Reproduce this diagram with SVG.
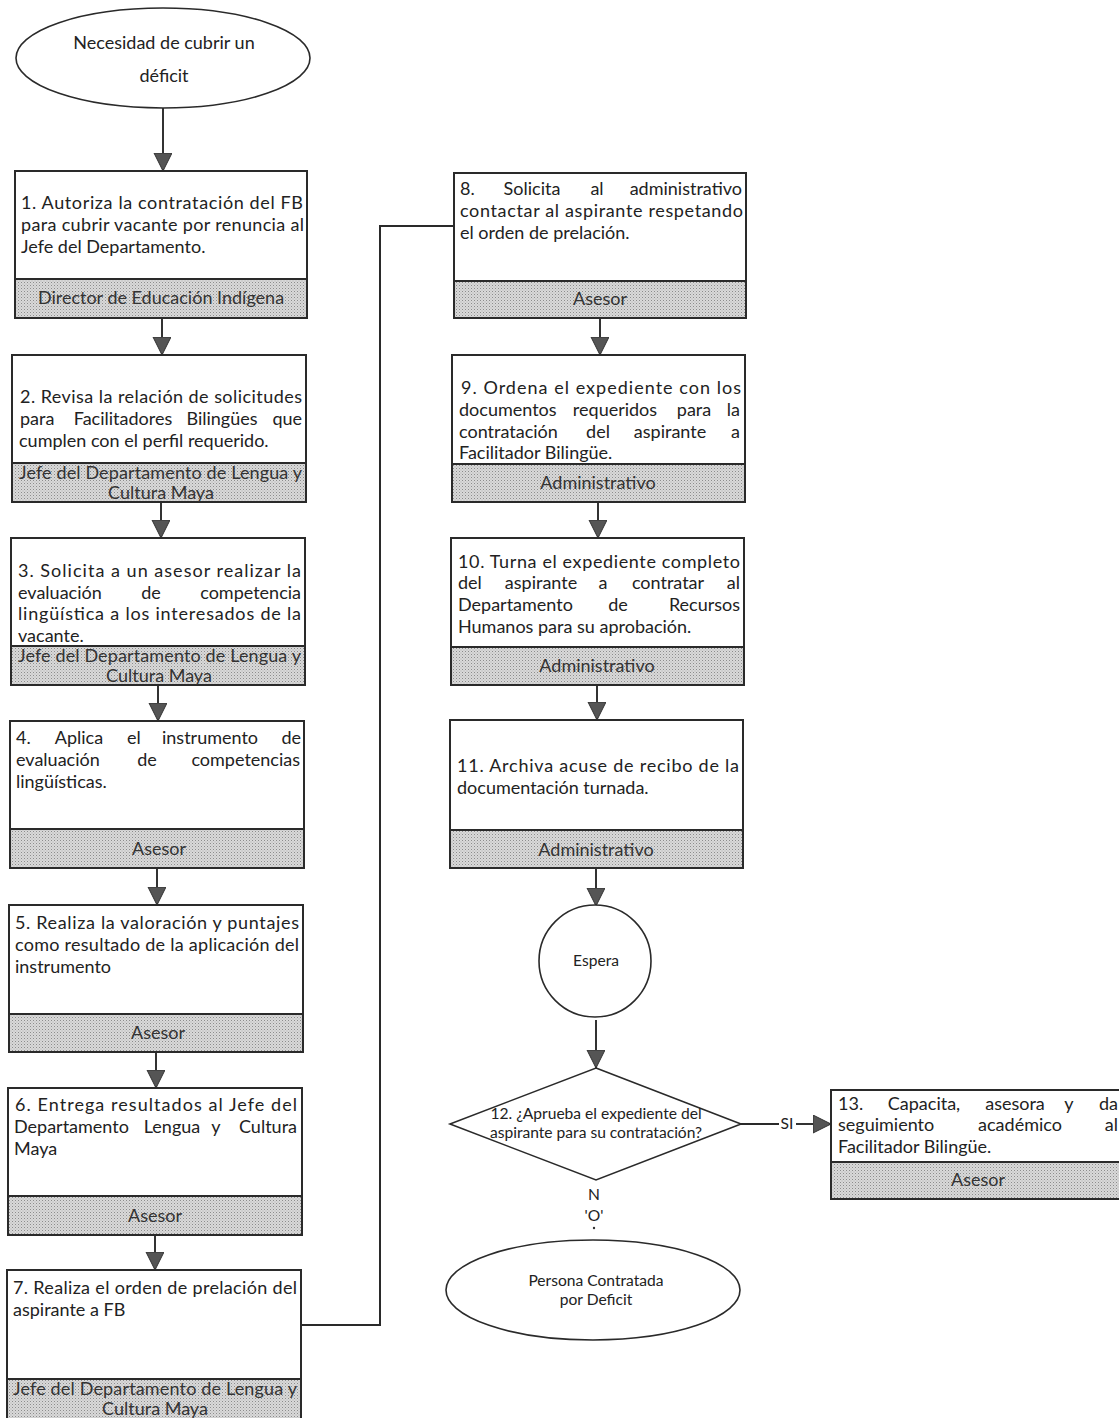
<svg xmlns="http://www.w3.org/2000/svg" width="1119" height="1418" viewBox="0 0 1119 1418">
<defs>
<pattern id="dots" width="3" height="3" patternUnits="userSpaceOnUse">
<rect width="3" height="3" fill="#d9d9d9"/>
<rect width="1" height="1" fill="#8c8c8c"/>
<rect x="1.5" y="1.5" width="1" height="1" fill="#b0b0b0"/>
</pattern>
<marker id="ah" markerUnits="userSpaceOnUse" markerWidth="20" markerHeight="20" refX="18" refY="9" orient="auto">
<path d="M0,0 L18,9 L0,18 z" fill="#555" stroke="#333" stroke-width="1"/>
</marker>
</defs>
<style>
.box{fill:#fff;stroke:#2a2a2a;stroke-width:2}
.band{fill:url(#dots);stroke:#2a2a2a;stroke-width:2}
.sh{fill:#fff;stroke:#2a2a2a;stroke-width:1.6}
.t{font-family:Lato,"Liberation Sans",sans-serif;font-size:18px;fill:#222}
.b{font-family:Lato,"Liberation Sans",sans-serif;font-size:18px;fill:#333;text-anchor:middle}
.m{text-anchor:middle}
.e{text-anchor:end}
.s{font-family:Lato,"Liberation Sans",sans-serif;font-size:15.6px;fill:#222;text-anchor:middle}
.c{fill:none;stroke:#2a2a2a;stroke-width:2}
.ca{fill:none;stroke:#333;stroke-width:2;marker-end:url(#ah)}
</style>
<rect width="1119" height="1418" fill="#fff"/>

<g id="connectors">
<line class="ca" x1="163" y1="108" x2="163" y2="171"/>
<line class="ca" x1="162" y1="318" x2="162" y2="355"/>
<line class="ca" x1="161" y1="502" x2="161" y2="538"/>
<line class="ca" x1="158" y1="685" x2="158" y2="721"/>
<line class="ca" x1="157" y1="868" x2="157" y2="905"/>
<line class="ca" x1="156" y1="1052" x2="156" y2="1088"/>
<line class="ca" x1="155" y1="1235" x2="155" y2="1270"/>
<polyline class="c" points="301,1325 380,1325 380,226 454,226"/>
<line class="ca" x1="600" y1="318" x2="600" y2="355"/>
<line class="ca" x1="598" y1="502" x2="598" y2="538"/>
<line class="ca" x1="597" y1="685" x2="597" y2="720"/>
<line class="ca" x1="596" y1="868" x2="596" y2="906"/>
<line class="ca" x1="596" y1="1020" x2="596" y2="1068"/>
<line class="c" x1="741" y1="1124" x2="779" y2="1124" stroke-width="1.5"/>
<text class="s" x="787" y="1129">SI</text>
<line class="ca" x1="796" y1="1124" x2="831" y2="1124" stroke-width="1.5"/>
<text class="s" x="594" y="1200">N</text>
<text class="s" x="594" y="1221">'O'</text>
<circle cx="594" cy="1228" r="1.2" fill="#333"/>
</g>

<g id="start">
<ellipse class="sh" cx="163" cy="58" rx="147" ry="50"/>
<text class="s" x="164" y="49" style="font-size:18px">Necesidad de cubrir un</text>
<text class="s" x="164" y="82" style="font-size:18px">déficit</text>
</g>

<g id="n1">
<rect class="box" x="15" y="171" width="292" height="147"/>
<rect class="band" x="15" y="279" width="292" height="39"/>
<text class="t" x="21" y="209" textLength="282" lengthAdjust="spacing">1. Autoriza la contratación del FB</text>
<text class="t" x="21" y="231" textLength="283" lengthAdjust="spacing">para cubrir vacante por renuncia al</text>
<text class="t" x="21" y="253">Jefe del Departamento.</text>
<text class="b" x="161" y="304">Director de Educación Indígena</text>
</g>

<g id="n2">
<rect class="box" x="12" y="355" width="294" height="147"/>
<rect class="band" x="12" y="463" width="294" height="39"/>
<text class="t" x="20" y="403" textLength="282" lengthAdjust="spacing">2. Revisa la relación de solicitudes</text>
<text class="t" y="425"><tspan x="20">para</tspan><tspan x="123" class="m">Facilitadores</tspan><tspan x="222" class="m">Bilingües</tspan><tspan x="302" class="e">que</tspan></text>
<text class="t" x="19" y="447">cumplen con el perfil requerido.</text>
<text class="t" x="19" y="479" textLength="283" lengthAdjust="spacing" style="fill:#333">Jefe del Departamento de Lengua y</text>
<text class="b" x="161" y="499">Cultura Maya</text>
</g>

<g id="n3">
<rect class="box" x="11" y="538" width="294" height="147"/>
<rect class="band" x="11" y="646" width="294" height="39"/>
<text class="t" x="18" y="577" textLength="283" lengthAdjust="spacing">3. Solicita a un asesor realizar la</text>
<text class="t" y="599"><tspan x="18">evaluación</tspan><tspan x="151" class="m">de</tspan><tspan x="301" class="e">competencia</tspan></text>
<text class="t" x="18" y="620" textLength="283" lengthAdjust="spacing">lingüística a los interesados de la</text>
<text class="t" x="18" y="642">vacante.</text>
<text class="t" x="18" y="662" textLength="283" lengthAdjust="spacing" style="fill:#333">Jefe del Departamento de Lengua y</text>
<text class="b" x="159" y="682">Cultura Maya</text>
</g>

<g id="n4">
<rect class="box" x="10" y="721" width="294" height="147"/>
<rect class="band" x="10" y="829" width="294" height="39"/>
<text class="t" y="744"><tspan x="16">4.</tspan><tspan x="79" class="m">Aplica</tspan><tspan x="134" class="m">el</tspan><tspan x="210" class="m">instrumento</tspan><tspan x="301" class="e">de</tspan></text>
<text class="t" y="766"><tspan x="16">evaluación</tspan><tspan x="147" class="m">de</tspan><tspan x="300" class="e">competencias</tspan></text>
<text class="t" x="16" y="788">lingüísticas.</text>
<text class="b" x="159" y="855">Asesor</text>
</g>

<g id="n5">
<rect class="box" x="9" y="905" width="294" height="147"/>
<rect class="band" x="9" y="1014" width="294" height="38"/>
<text class="t" x="15" y="929" textLength="284" lengthAdjust="spacing">5. Realiza la valoración y puntajes</text>
<text class="t" x="15" y="951" textLength="284" lengthAdjust="spacing">como resultado de la aplicación del</text>
<text class="t" x="15" y="973">instrumento</text>
<text class="b" x="158" y="1039">Asesor</text>
</g>

<g id="n6">
<rect class="box" x="8" y="1088" width="294" height="147"/>
<rect class="band" x="8" y="1196" width="294" height="39"/>
<text class="t" x="15" y="1111" textLength="282" lengthAdjust="spacing">6. Entrega resultados al Jefe del</text>
<text class="t" y="1133"><tspan x="14">Departamento</tspan><tspan x="172" class="m">Lengua</tspan><tspan x="216" class="m">y</tspan><tspan x="297" class="e">Cultura</tspan></text>
<text class="t" x="14" y="1155">Maya</text>
<text class="b" x="155" y="1222">Asesor</text>
</g>

<g id="n7">
<rect class="box" x="7" y="1270" width="294" height="152"/>
<rect class="band" x="7" y="1379" width="294" height="43"/>
<text class="t" x="13" y="1294" textLength="284" lengthAdjust="spacing">7. Realiza el orden de prelación del</text>
<text class="t" x="13" y="1316">aspirante a FB</text>
<text class="t" x="13" y="1395" textLength="284" lengthAdjust="spacing" style="fill:#333">Jefe del Departamento de Lengua y</text>
<text class="b" x="155" y="1415">Cultura Maya</text>
</g>

<g id="n8">
<rect class="box" x="454" y="173" width="292" height="145"/>
<rect class="band" x="454" y="281" width="292" height="37"/>
<text class="t" y="195"><tspan x="460">8.</tspan><tspan x="532" class="m">Solicita</tspan><tspan x="597" class="m">al</tspan><tspan x="742" class="e">administrativo</tspan></text>
<text class="t" x="460" y="217" textLength="283" lengthAdjust="spacing">contactar al aspirante respetando</text>
<text class="t" x="460" y="239">el orden de prelación.</text>
<text class="b" x="600" y="305">Asesor</text>
</g>

<g id="n9">
<rect class="box" x="452" y="355" width="293" height="147"/>
<rect class="band" x="452" y="464" width="293" height="38"/>
<text class="t" x="461" y="394" textLength="280" lengthAdjust="spacing">9. Ordena el expediente con los</text>
<text class="t" y="416"><tspan x="459">documentos</tspan><tspan x="615" class="m">requeridos</tspan><tspan x="694" class="m">para</tspan><tspan x="740" class="e">la</tspan></text>
<text class="t" y="438"><tspan x="459">contratación</tspan><tspan x="598" class="m">del</tspan><tspan x="670" class="m">aspirante</tspan><tspan x="740" class="e">a</tspan></text>
<text class="t" x="459" y="459">Facilitador Bilingüe.</text>
<text class="b" x="598" y="489">Administrativo</text>
</g>

<g id="n10">
<rect class="box" x="451" y="538" width="293" height="147"/>
<rect class="band" x="451" y="647" width="293" height="38"/>
<text class="t" x="458" y="568" textLength="282" lengthAdjust="spacing">10. Turna el expediente completo</text>
<text class="t" y="589"><tspan x="458">del</tspan><tspan x="541" class="m">aspirante</tspan><tspan x="603" class="m">a</tspan><tspan x="668" class="m">contratar</tspan><tspan x="740" class="e">al</tspan></text>
<text class="t" y="611"><tspan x="458">Departamento</tspan><tspan x="618" class="m">de</tspan><tspan x="740" class="e">Recursos</tspan></text>
<text class="t" x="458" y="633">Humanos para su aprobación.</text>
<text class="b" x="597" y="672">Administrativo</text>
</g>

<g id="n11">
<rect class="box" x="450" y="720" width="293" height="148"/>
<rect class="band" x="450" y="830" width="293" height="38"/>
<text class="t" x="457" y="772" textLength="282" lengthAdjust="spacing">11. Archiva acuse de recibo de la</text>
<text class="t" x="457" y="794">documentación turnada.</text>
<text class="b" x="596" y="856">Administrativo</text>
</g>

<g id="wait">
<circle class="sh" cx="595" cy="961" r="56"/>
<text class="s" x="596" y="966">Espera</text>
</g>

<g id="n12">
<polygon class="sh" points="596,1068 741,1124 596,1180 450,1124"/>
<text class="s" x="596" y="1119">12. ¿Aprueba el expediente del</text>
<text class="s" x="596" y="1138">aspirante para su contratación?</text>
</g>

<g id="end">
<ellipse class="sh" cx="593" cy="1290" rx="147" ry="50"/>
<text class="s" x="596" y="1286">Persona Contratada</text>
<text class="s" x="596" y="1305">por Deficit</text>
</g>

<g id="n13">
<rect class="box" x="831" y="1090" width="300" height="109"/>
<rect class="band" x="831" y="1162" width="300" height="37"/>
<text class="t" y="1110"><tspan x="838">13.</tspan><tspan x="924" class="m">Capacita,</tspan><tspan x="1015" class="m">asesora</tspan><tspan x="1069" class="m">y</tspan><tspan x="1118" class="e">da</tspan></text>
<text class="t" y="1131"><tspan x="838">seguimiento</tspan><tspan x="1020" class="m">académico</tspan><tspan x="1118" class="e">al</tspan></text>
<text class="t" x="838" y="1153">Facilitador Bilingüe.</text>
<text class="b" x="978" y="1186">Asesor</text>
</g>
</svg>
